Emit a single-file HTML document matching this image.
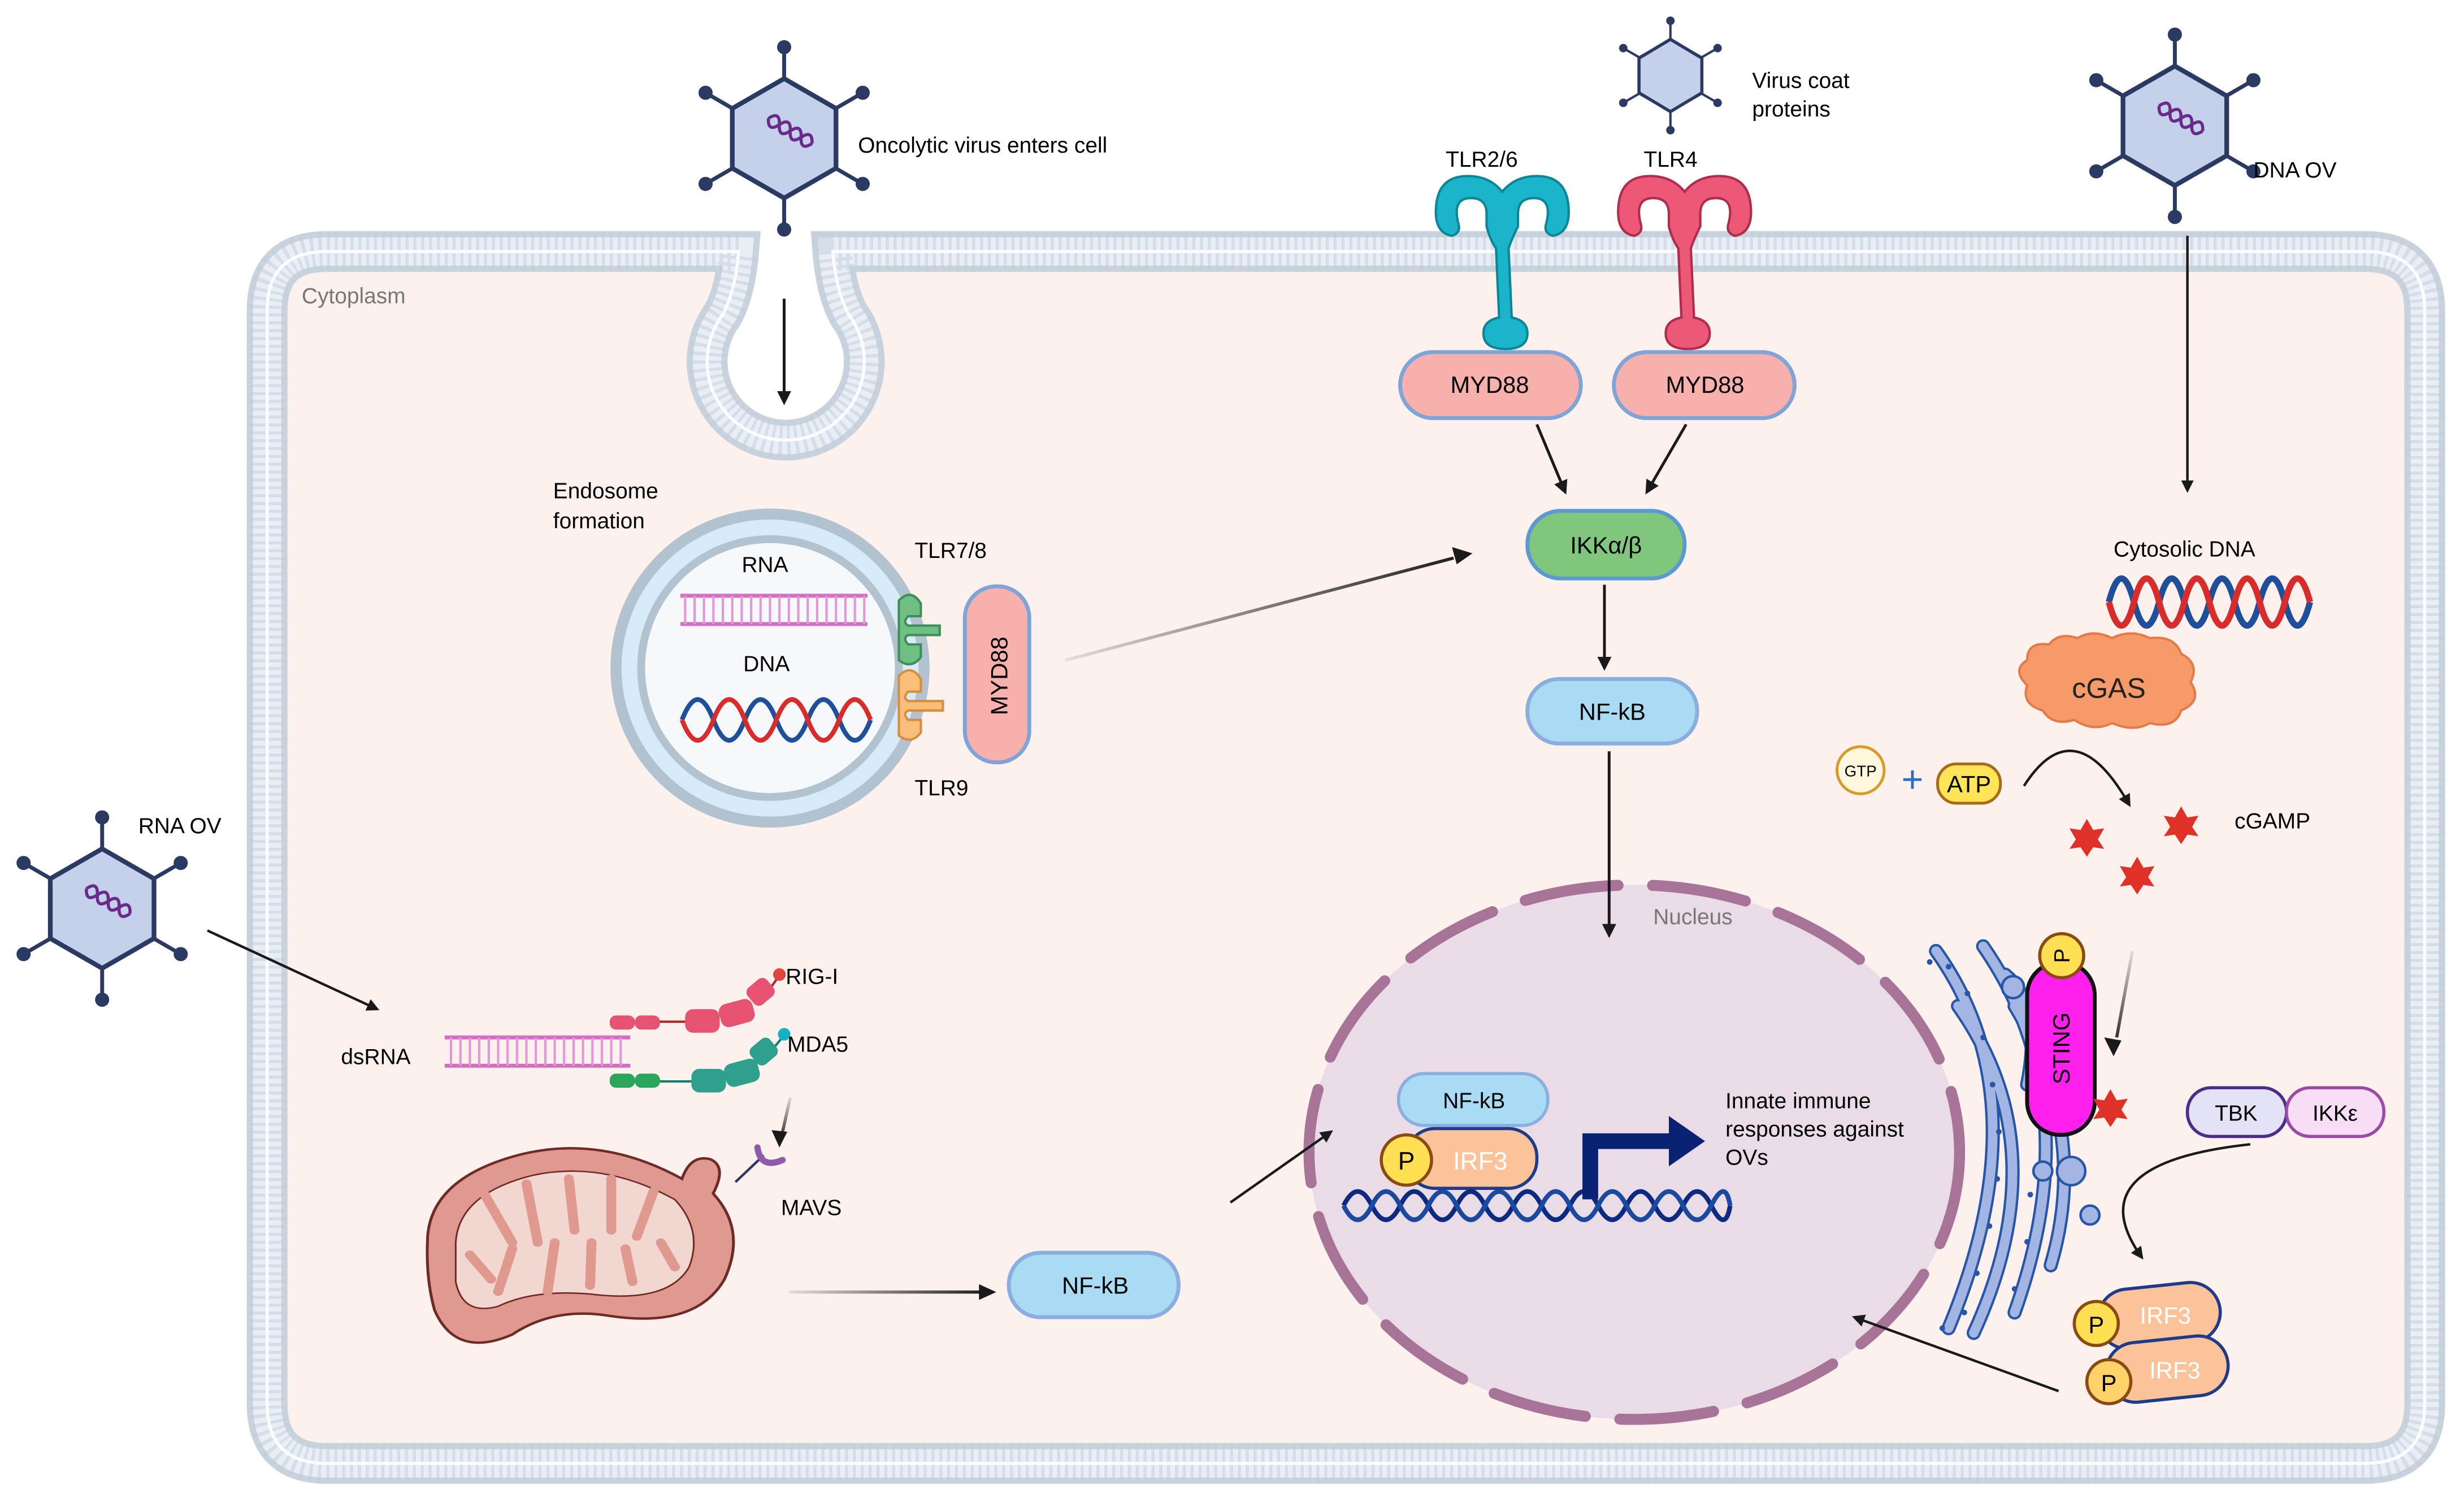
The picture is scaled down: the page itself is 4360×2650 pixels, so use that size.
<!DOCTYPE html>
<html><head><meta charset="utf-8"><style>
html,body{margin:0;padding:0;background:#fff;}
svg{display:block;}
text{font-family:"Liberation Sans",Arial,sans-serif;}
</style></head><body>
<svg width="4360" height="2650" viewBox="0 0 1568 953" xmlns="http://www.w3.org/2000/svg">
<defs>
<marker id="ah" viewBox="0 0 10 10" refX="8" refY="5" markerWidth="5" markerHeight="5" orient="auto"><path d="M0,0 L10,5 L0,10 z" fill="#1a1a1a"/></marker>
<linearGradient id="gA" gradientUnits="userSpaceOnUse" x1="678" y1="420" x2="933" y2="353"><stop offset="0" stop-color="#1a1a1a" stop-opacity="0.1"/><stop offset="1" stop-color="#1a1a1a"/></linearGradient>
<linearGradient id="gB" gradientUnits="userSpaceOnUse" x1="503" y1="698" x2="497" y2="727"><stop offset="0" stop-color="#1a1a1a" stop-opacity="0.1"/><stop offset="1" stop-color="#1a1a1a"/></linearGradient>
<linearGradient id="gC" gradientUnits="userSpaceOnUse" x1="1357" y1="605" x2="1346" y2="668"><stop offset="0" stop-color="#1a1a1a" stop-opacity="0.1"/><stop offset="1" stop-color="#1a1a1a"/></linearGradient>
<linearGradient id="gD" gradientUnits="userSpaceOnUse" x1="502" y1="822" x2="630" y2="822"><stop offset="0" stop-color="#1a1a1a" stop-opacity="0.1"/><stop offset="1" stop-color="#1a1a1a"/></linearGradient>
<g id="virus">
 <g stroke="#2b3a63" stroke-width="2.5">
  <line x1="0" y1="0" x2="0" y2="-58"/><line x1="0" y1="0" x2="0" y2="58"/>
  <line x1="0" y1="0" x2="50" y2="-29"/><line x1="0" y1="0" x2="-50" y2="-29"/>
  <line x1="0" y1="0" x2="50" y2="29"/><line x1="0" y1="0" x2="-50" y2="29"/>
 </g>
 <g fill="#2b3a63"><circle cx="0" cy="-58" r="4.5"/><circle cx="0" cy="58" r="4.5"/><circle cx="50" cy="-29" r="4.5"/><circle cx="-50" cy="-29" r="4.5"/><circle cx="50" cy="29" r="4.5"/><circle cx="-50" cy="29" r="4.5"/></g>
 <polygon points="0,-38 33,-19 33,19 0,38 -33,19 -33,-19" fill="#c5d1ea" stroke="#2b3a63" stroke-width="3"/>
 <path d="M-15,-6 q4,-8 8,0 t8,0 t8,0 t8,0" transform="rotate(30)" fill="none" stroke="#6a2a8a" stroke-width="2"/>
 <path d="M-15,-6 q4,8 8,0 t8,0 t8,0 t8,0" transform="rotate(30)" fill="none" stroke="#6a2a8a" stroke-width="2"/>
</g>
<g id="pstar"><polygon points="0,-12 4,-5 11,-6 7,1 11,7 4,6 0,12 -4,6 -11,7 -7,1 -11,-6 -4,-5" fill="#e03128"/></g>
<path id="mem" d="M470,160 L208,160 Q170,160 170,198 L170,893 Q170,931 208,931 L1505,931 Q1543,931 1543,893 L1543,198 Q1543,160 1505,160 L530,160 Q532,185 540,200 A50,50 0 1 1 460,200 Q468,185 470,160 Z"/>
</defs>

<!-- cell membrane -->
<use href="#mem" fill="#fdf1ee" stroke="#c9d3de" stroke-width="26"/>
<use href="#mem" fill="none" stroke="#e9eef5" stroke-width="18"/>
<use href="#mem" fill="none" stroke="#c2cedb" stroke-width="24" stroke-dasharray="2 3" opacity="0.5"/>
<use href="#mem" fill="none" stroke="#fbfcfd" stroke-width="2"/>
<text x="192" y="193" font-size="14" fill="#777">Cytoplasm</text>

<!-- top virus -->
<use href="#virus" x="499" y="88"/>
<text x="546" y="97" font-size="14">Oncolytic virus enters cell</text>
<line x1="499" y1="190" x2="499" y2="256" stroke="#1a1a1a" stroke-width="1.8" marker-end="url(#ah)"/>

<!-- endosome -->
<circle cx="490" cy="425" r="98" fill="#d7ebf7" stroke="#b3c2cf" stroke-width="7"/>
<circle cx="490" cy="425" r="82" fill="#f5f9fc" stroke="#b3c2cf" stroke-width="5"/>
<text x="352" y="317" font-size="14">Endosome</text>
<text x="352" y="336" font-size="14">formation</text>
<text x="472" y="364" font-size="14">RNA</text>
<text x="473" y="427" font-size="14">DNA</text>
<g stroke="#d36ec0"><line x1="433" y1="379" x2="552" y2="379" stroke-width="2.5"/><line x1="433" y1="397" x2="552" y2="397" stroke-width="2.5"/></g>
<path d="M436,379 v18 m6,-18 v18 m6,-18 v18 m6,-18 v18 m6,-18 v18 m6,-18 v18 m6,-18 v18 m6,-18 v18 m6,-18 v18 m6,-18 v18 m6,-18 v18 m6,-18 v18 m6,-18 v18 m6,-18 v18 m6,-18 v18 m6,-18 v18 m6,-18 v18 m6,-18 v18 m6,-18 v18 m6,-18 v18" stroke="#e497d8" stroke-width="1.5"/>
<path d="M434,458 q10,-26 20,0 t20,0 t20,0 t20,0 t20,0 t20,0" fill="none" stroke="#1f4f9a" stroke-width="3"/>
<path d="M434,458 q10,26 20,0 t20,0 t20,0 t20,0 t20,0 t20,0" fill="none" stroke="#d82b2b" stroke-width="3"/>
<g fill="#6fbf85" stroke="#3e8f57" stroke-width="1.5"><path d="M572,382 q8,-8 14,2 l0,8 l-8,0 q-4,4 0,6 l20,0 l0,6 l-20,0 q-4,2 0,6 l8,0 l0,8 q-6,8 -14,2 z"/></g>
<g fill="#f8be7a" stroke="#d68d3c" stroke-width="1.5"><path d="M572,430 q8,-8 14,2 l0,8 l-8,0 q-4,4 0,6 l22,0 l0,6 l-22,0 q-4,2 0,6 l8,0 l0,8 q-6,8 -14,2 z"/></g>
<rect x="614" y="373" width="41" height="112" rx="20" fill="#f7b0ab" stroke="#7fa5d8" stroke-width="2.5"/>
<text transform="translate(641,430) rotate(-90)" text-anchor="middle" font-size="15">MYD88</text>
<text x="582" y="355" font-size="14">TLR7/8</text>
<text x="582" y="506" font-size="14">TLR9</text>
<line x1="678" y1="420" x2="925" y2="355" stroke="url(#gA)" stroke-width="2"/>
<path d="M937,352 l-13,-4 l3,11 z" fill="#1a1a1a"/>

<!-- virus coat proteins -->
<g transform="translate(1063,48) scale(0.6)"><use href="#virus"/></g>
<polygon points="1063,25 1083,37 1083,59 1063,71 1043,59 1043,37" fill="#c5d1ea" stroke="#2b3a63" stroke-width="2"/>
<text x="1115" y="56" font-size="14">Virus coat</text>
<text x="1115" y="74" font-size="14">proteins</text>

<!-- TLR2/6 -->
<text x="920" y="106" font-size="14">TLR2/6</text>
<g fill="#1ab5ca" stroke="#0b8696" stroke-width="1.5">
 <path d="M924,150 q-12,-2 -10,-20 q2,-18 20,-18 q14,0 22,10 q8,-10 22,-10 q18,0 20,18 q2,18 -10,20 q-6,-2 -4,-8 q4,-16 -8,-16 q-10,0 -10,10 l0,8 q-4,8 -6,14 l2,44 q10,2 10,10 q0,10 -14,10 q-14,0 -14,-10 q0,-8 10,-10 l-2,-44 q-4,-6 -6,-14 l0,-8 q0,-10 -10,-10 q-12,0 -8,16 q2,6 -4,8 z"/>
</g>
<!-- TLR4 -->
<text x="1046" y="106" font-size="14">TLR4</text>
<g fill="#ec5877" stroke="#b02c4b" stroke-width="1.5">
 <path d="M1040,150 q-12,-2 -10,-20 q2,-18 20,-18 q14,0 22,10 q8,-10 22,-10 q18,0 20,18 q2,18 -10,20 q-6,-2 -4,-8 q4,-16 -8,-16 q-10,0 -10,10 l0,8 q-4,8 -6,14 l2,44 q10,2 10,10 q0,10 -14,10 q-14,0 -14,-10 q0,-8 10,-10 l-2,-44 q-4,-6 -6,-14 l0,-8 q0,-10 -10,-10 q-12,0 -8,16 q2,6 -4,8 z"/>
</g>
<rect x="891" y="224" width="115" height="42" rx="21" fill="#f7b0ab" stroke="#7fa5d8" stroke-width="2.5"/>
<text x="948" y="250" text-anchor="middle" font-size="15">MYD88</text>
<rect x="1027" y="224" width="115" height="42" rx="21" fill="#f7b0ab" stroke="#7fa5d8" stroke-width="2.5"/>
<text x="1085" y="250" text-anchor="middle" font-size="15">MYD88</text>
<line x1="978" y1="270" x2="996" y2="313" stroke="#1a1a1a" stroke-width="1.8" marker-end="url(#ah)"/>
<line x1="1073" y1="270" x2="1048" y2="313" stroke="#1a1a1a" stroke-width="1.8" marker-end="url(#ah)"/>
<rect x="972" y="325" width="100" height="43" rx="21" fill="#80c67d" stroke="#5a9ad0" stroke-width="2.5"/>
<text x="1022" y="352" text-anchor="middle" font-size="15">IKKα/β</text>
<line x1="1021" y1="372" x2="1021" y2="425" stroke="#1a1a1a" stroke-width="1.8" marker-end="url(#ah)"/>
<rect x="972" y="432" width="108" height="41" rx="20" fill="#a9dcf3" stroke="#8aaee0" stroke-width="2.5"/>
<text x="1026" y="458" text-anchor="middle" font-size="15">NF-kB</text>

<!-- DNA OV -->
<use href="#virus" x="1384" y="80"/>
<text x="1434" y="113" font-size="14">DNA OV</text>
<line x1="1392" y1="150" x2="1392" y2="312" stroke="#1a1a1a" stroke-width="1.6" marker-end="url(#ah)"/>
<text x="1345" y="354" font-size="14">Cytosolic DNA</text>
<path d="M1342,383 q8,-30 16,0 t16,0 t16,0 t16,0 t16,0 t16,0 t16,0 t16,0" fill="none" stroke="#1f4f9a" stroke-width="4"/>
<path d="M1342,383 q8,30 16,0 t16,0 t16,0 t16,0 t16,0 t16,0 t16,0 t16,0" fill="none" stroke="#d82b2b" stroke-width="4"/>
<path d="M1290,420 q0,-12 14,-10 q6,-8 18,-4 q10,-6 22,0 q12,-6 24,0 q16,-2 20,10 q12,6 6,18 q8,12 -6,18 q-4,12 -20,8 q-10,6 -24,0 q-12,6 -24,-2 q-14,4 -20,-6 q-14,-4 -10,-16 q-10,-10 0,-16 z" fill="#f79a6a" stroke="#e47a45" stroke-width="1.5"/>
<text x="1342" y="444" text-anchor="middle" font-size="18" fill="#222">cGAS</text>
<circle cx="1184" cy="490" r="15" fill="#fff8dc" stroke="#d89a2a" stroke-width="1.8"/>
<text x="1184" y="494" text-anchor="middle" font-size="10">GTP</text>
<text x="1217" y="504" text-anchor="middle" font-size="24" fill="#2a6fc7">+</text>
<rect x="1233" y="486" width="40" height="25" rx="12" fill="#ffe457" stroke="#a66a1a" stroke-width="1.8"/>
<text x="1253" y="504" text-anchor="middle" font-size="15">ATP</text>
<path d="M1288,500 Q1320,450 1355,512" fill="none" stroke="#1a1a1a" stroke-width="1.6" marker-end="url(#ah)"/>
<use href="#pstar" x="1328" y="533"/><use href="#pstar" x="1388" y="525"/><use href="#pstar" x="1360" y="557"/>
<text x="1422" y="527" font-size="14">cGAMP</text>

<!-- nucleus -->
<ellipse cx="1040" cy="733" rx="207" ry="170" fill="#eadce7"/>
<ellipse cx="1040" cy="733" rx="207" ry="170" fill="none" stroke="#a77498" stroke-width="7" stroke-dasharray="60 22" stroke-linecap="round"/>
<line x1="1024" y1="478" x2="1024" y2="595" stroke="#1a1a1a" stroke-width="1.8" marker-end="url(#ah)"/>
<text x="1052" y="588" font-size="14" fill="#777">Nucleus</text>
<rect x="890" y="683" width="95" height="33" rx="16" fill="#a9dcf3" stroke="#8aaee0" stroke-width="2"/>
<text x="938" y="705" text-anchor="middle" font-size="14">NF-kB</text>
<rect x="895" y="718" width="83" height="38" rx="18" fill="#fbc39a" stroke="#1e3a8a" stroke-width="2"/>
<text x="942" y="744" text-anchor="middle" font-size="16" fill="#fff">IRF3</text>
<circle cx="895" cy="738" r="16" fill="#ffe055" stroke="#8a4a10" stroke-width="2"/>
<text x="895" y="744" text-anchor="middle" font-size="16">P</text>
<path d="M855,767 q9,-18 18,0 t18,0 t18,0 t18,0 t18,0 t18,0 t18,0 t18,0 t18,0 t18,0 t18,0 t18,0 t18,0 t12,0" fill="none" stroke="#0c2a80" stroke-width="3"/>
<path d="M855,767 q9,18 18,0 t18,0 t18,0 t18,0 t18,0 t18,0 t18,0 t18,0 t18,0 t18,0 t18,0 t18,0 t18,0 t12,0" fill="none" stroke="#1a4aa0" stroke-width="3"/>
<path d="M1007,763 L1007,721 L1062,721 L1062,710 L1085,726 L1062,742 L1062,731 L1017,731 L1017,763 Z" fill="#0a2275"/>
<text x="1098" y="705" font-size="14">Innate immune</text>
<text x="1098" y="723" font-size="14">responses against</text>
<text x="1098" y="741" font-size="14">OVs</text>

<!-- ER / Golgi -->
<g fill="none" stroke-linecap="round">
 <g stroke="#2856a6" stroke-width="9">
  <path d="M1232,605 Q1300,700 1240,845"/>
  <path d="M1246,640 Q1310,730 1256,848"/>
  <path d="M1262,602 Q1330,700 1282,835"/>
  <path d="M1282,640 Q1330,720 1305,805"/>
  <path d="M1276,620 Q1300,640 1290,690"/>
 </g>
 <g stroke="#a3b5e2" stroke-width="6">
  <path d="M1232,605 Q1300,700 1240,845"/>
  <path d="M1246,640 Q1310,730 1256,848"/>
  <path d="M1262,602 Q1330,700 1282,835"/>
  <path d="M1282,640 Q1330,720 1305,805"/>
  <path d="M1276,620 Q1300,640 1290,690"/>
 </g>
</g>
<g fill="#a3b5e2" stroke="#2856a6" stroke-width="1.6">
 <circle cx="1281" cy="628" r="7"/><circle cx="1300" cy="745" r="6"/><circle cx="1318" cy="745" r="9"/><circle cx="1330" cy="773" r="6"/><circle cx="1316" cy="700" r="6"/>
</g>
<g fill="#2856a6"><circle cx="1240" cy="615" r="1.8"/><circle cx="1252" cy="632" r="1.8"/><circle cx="1262" cy="660" r="1.8"/><circle cx="1268" cy="690" r="1.8"/><circle cx="1272" cy="720" r="1.8"/><circle cx="1271" cy="750" r="1.8"/><circle cx="1266" cy="780" r="1.8"/><circle cx="1258" cy="810" r="1.8"/><circle cx="1250" cy="835" r="1.8"/><circle cx="1292" cy="760" r="1.8"/><circle cx="1290" cy="790" r="1.8"/><circle cx="1282" cy="820" r="1.8"/><circle cx="1228" cy="612" r="1.8"/><circle cx="1236" cy="845" r="1.8"/></g>
<rect x="1290" y="612" width="43" height="110" rx="21" fill="#ff20ee" stroke="#111" stroke-width="2.5"/>
<text transform="translate(1317,667) rotate(-90)" text-anchor="middle" font-size="15">STING</text>
<circle cx="1312" cy="608" r="14" fill="#ffe055" stroke="#8a4a10" stroke-width="2"/>
<text transform="translate(1317,608) rotate(-90)" text-anchor="middle" font-size="14">P</text>
<use href="#pstar" x="1343" y="705"/>
<line x1="1357" y1="605" x2="1347" y2="660" stroke="url(#gC)" stroke-width="2"/>
<path d="M1345,672 l-6,-12 l11,2 z" fill="#1a1a1a"/>
<rect x="1392" y="692" width="63" height="31" rx="15" fill="#e4e2f7" stroke="#4a2c8a" stroke-width="2"/>
<text x="1423" y="713" text-anchor="middle" font-size="14">TBK</text>
<rect x="1455" y="692" width="62" height="31" rx="15" fill="#f8ddf6" stroke="#9c4aa5" stroke-width="2"/>
<text x="1486" y="713" text-anchor="middle" font-size="14">IKKε</text>
<path d="M1432,728 Q1320,740 1363,800" fill="none" stroke="#1a1a1a" stroke-width="1.6" marker-end="url(#ah)"/>
<rect x="1335" y="818" width="78" height="38" rx="19" fill="#fbc39a" stroke="#1e3a8a" stroke-width="2" transform="rotate(-6 1374 837)"/>
<text x="1378" y="842" text-anchor="middle" font-size="15" fill="#fff">IRF3</text>
<circle cx="1334" cy="842" r="14" fill="#ffe055" stroke="#8a4a10" stroke-width="2"/>
<text x="1334" y="848" text-anchor="middle" font-size="15">P</text>
<rect x="1340" y="852" width="78" height="38" rx="19" fill="#fbc39a" stroke="#1e3a8a" stroke-width="2" transform="rotate(-6 1379 871)"/>
<text x="1384" y="877" text-anchor="middle" font-size="15" fill="#fff">IRF3</text>
<circle cx="1342" cy="879" r="14" fill="#ffd36a" stroke="#8a4a10" stroke-width="2"/>
<text x="1342" y="885" text-anchor="middle" font-size="15">P</text>
<line x1="1310" y1="885" x2="1180" y2="838" stroke="#1a1a1a" stroke-width="1.6" marker-end="url(#ah)"/>

<!-- RNA OV -->
<use href="#virus" x="65" y="578"/>
<text x="88" y="530" font-size="14">RNA OV</text>
<line x1="132" y1="592" x2="240" y2="642" stroke="#1a1a1a" stroke-width="1.6" marker-end="url(#ah)"/>
<text x="217" y="677" font-size="14">dsRNA</text>
<g stroke="#d36ec0"><line x1="283" y1="660" x2="401" y2="660" stroke-width="2.5"/><line x1="283" y1="678" x2="401" y2="678" stroke-width="2.5"/></g>
<path d="M287,660 v18 m6,-18 v18 m6,-18 v18 m6,-18 v18 m6,-18 v18 m6,-18 v18 m6,-18 v18 m6,-18 v18 m6,-18 v18 m6,-18 v18 m6,-18 v18 m6,-18 v18 m6,-18 v18 m6,-18 v18 m6,-18 v18 m6,-18 v18 m6,-18 v18 m6,-18 v18 m6,-18 v18" stroke="#e497d8" stroke-width="1.5"/>
<g stroke="#a82828" stroke-width="1.5"><line x1="400" y1="650" x2="440" y2="650"/><line x1="487" y1="633" x2="495" y2="622"/></g>
<g fill="#e65272"><rect x="388" y="646" width="16" height="9" rx="4"/><rect x="404" y="646" width="16" height="9" rx="4"/><rect x="436" y="642" width="22" height="15" rx="5"/><rect x="458" y="637" width="22" height="15" rx="5" transform="rotate(-15 469 645)"/><rect x="476" y="624" width="16" height="14" rx="4" transform="rotate(-40 484 631)"/></g>
<circle cx="496" cy="620" r="4" fill="#e0443a"/>
<text x="500" y="626" font-size="14">RIG-I</text>
<g stroke="#12806e" stroke-width="1.5"><line x1="400" y1="688" x2="442" y2="688"/><line x1="488" y1="672" x2="497" y2="661"/></g>
<g fill="#2fa08e"><rect x="388" y="683" width="16" height="9" rx="4" fill="#2aa55a"/><rect x="404" y="683" width="16" height="9" rx="4" fill="#2aa55a"/><rect x="440" y="680" width="22" height="15" rx="5"/><rect x="461" y="675" width="22" height="15" rx="5" transform="rotate(-15 472 682)"/><rect x="478" y="662" width="16" height="14" rx="4" transform="rotate(-40 486 669)"/></g>
<circle cx="499" cy="658" r="4" fill="#12b3c8"/>
<text x="501" y="669" font-size="14">MDA5</text>
<line x1="503" y1="698" x2="498" y2="720" stroke="url(#gB)" stroke-width="2"/>
<path d="M496,730 l-5,-11 l10,1 z" fill="#1a1a1a"/>
<!-- mitochondrion -->
<g transform="translate(272,732) scale(0.9,0.78) translate(-280,-725)">
<path d="M280,800 q0,-50 60,-70 q60,-20 120,18 q6,-20 20,-16 q12,6 2,28 q24,30 8,70 q-20,40 -80,30 q-40,-8 -70,15 q-40,20 -55,-20 q-6,-25 -5,-55 z" fill="#e0998e" stroke="#6e2a26" stroke-width="2"/>
<path d="M300,800 q2,-40 55,-55 q50,-12 100,20 q20,25 10,55 q-15,30 -70,22 q-40,-4 -65,10 q-25,8 -30,-20 z" fill="#f2d6d0" stroke="#6e2a26" stroke-width="1.2"/>
<g stroke="#e0998e" stroke-width="7" stroke-linecap="round"><line x1="320" y1="760" x2="340" y2="800"/><line x1="350" y1="752" x2="358" y2="800"/><line x1="380" y1="748" x2="384" y2="790"/><line x1="410" y1="748" x2="410" y2="790"/><line x1="440" y1="758" x2="428" y2="795"/><line x1="330" y1="840" x2="340" y2="805"/><line x1="365" y1="840" x2="370" y2="800"/><line x1="395" y1="835" x2="396" y2="800"/><line x1="425" y1="832" x2="420" y2="805"/><line x1="455" y1="820" x2="445" y2="800"/><line x1="310" y1="810" x2="325" y2="830"/></g>
</g>
<line x1="468" y1="752" x2="486" y2="735" stroke="#33336a" stroke-width="1.6"/>
<path d="M482,730 q2,14 16,8" fill="none" stroke="#8e5aad" stroke-width="4" stroke-linecap="round"/>
<text x="497" y="773" font-size="14">MAVS</text>
<line x1="502" y1="822" x2="624" y2="822" stroke="url(#gD)" stroke-width="2"/>
<path d="M634,822 l-11,-5 l0,10 z" fill="#1a1a1a"/>
<rect x="642" y="797" width="108" height="41" rx="20" fill="#a9dcf3" stroke="#8aaee0" stroke-width="2.5"/>
<text x="697" y="823" text-anchor="middle" font-size="15">NF-kB</text>
<line x1="783" y1="765" x2="847" y2="720" stroke="#1a1a1a" stroke-width="1.6" marker-end="url(#ah)"/>
</svg>
</body></html>
